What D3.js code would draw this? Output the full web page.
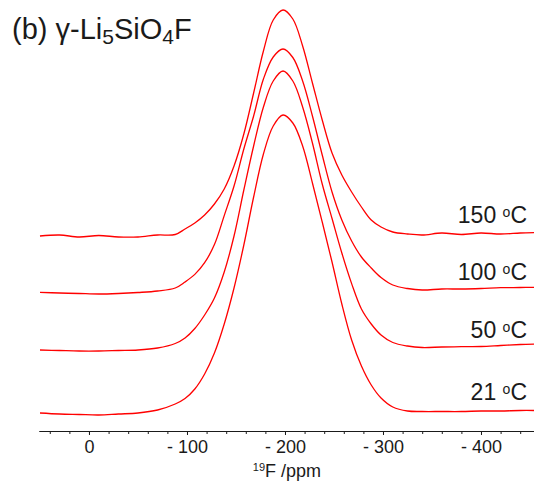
<!DOCTYPE html>
<html>
<head>
<meta charset="utf-8">
<script src="https://cdn.jsdelivr.net/npm/d3@7"></script>
<style>
  body { margin: 0; background: #fff; }
  text { font-family: "Liberation Sans", Arial, sans-serif; fill: #1a1a1a; }
</style>
</head>
<body>
<div id="chart"></div>
<script>
// chemical shift grid (ppm) shared by all spectra
const ppm = [50, 30, 10, -10, -30, -50, -70, -88, -98, -108, -118, -128, -138, -148, -158, -168, -178, -188, -198,
  -208, -218, -228, -238, -248, -258, -268, -278, -288, -298, -310, -325, -340, -360, -380, -400, -420, -440, -455];

// intensities (a.u.)
const i21 = [-1, -2, -2.5, -3, -2, -1, 2, 8, 13.5, 23, 38, 59, 88, 124, 167, 215, 258, 286, 297,
  289, 266, 229, 190, 150, 108, 72, 46, 27, 14, 5, 1, 0.5, 0.5, 0.5, 1, 1, 1.5, 1.5];
const i50 = [0, -0.5, -1, -1, -0.5, 0, 2, 6.5, 12, 21.5, 35, 52, 78, 114, 160, 204, 243, 269, 279,
  269, 243, 207, 166, 131.5, 97, 66.4, 41, 26, 15, 7.5, 4, 2.5, 3, 3.3, 3.5, 4.5, 5.5, 6];
const i100 = [-0.3, -1, -1.5, -2, -1.5, -0.5, 1, 4, 10, 17.6, 29.3, 47.4, 76.4, 106, 143, 176, 213, 235, 243,
  234.5, 211, 176, 137, 100, 72, 51, 35, 24, 14.5, 7, 3.5, 2, 3, 3, 3.5, 4.3, 4.5, 4.7];
const i150 = [-1, 0, -2, -0.5, -2, -2, 0, 0.5, 6, 12, 20, 31, 46, 69, 101, 142, 184, 215, 225,
  216, 189, 152, 115, 82, 60, 43, 28, 15, 8, 3, 1, 0, 2, 0.5, 2, 1, 2, 2.5];

const temps = ["21", "50", "100", "150"];
const spectra = [i21, i50, i100, i150];
const offsets = [0, 62, 120, 177];   // vertical stacking of the spectra

const majorTicks = [0, -100, -200, -300, -400];
const minorTicks = d3.range(40, -441, -20);

const width = 534, height = 490;

const svg = d3.select("#chart")
  .append("svg")
    .attr("width", width)
    .attr("height", height);

// reversed ppm axis
const x = d3.scaleLinear()
  .domain([51, -455])
  .range([39, 534.9]);

const y = d3.scaleLinear()
  .domain([0, 400])
  .range([412, 12]);

const axisY = 431;

// minor ticks
svg.append("g")
  .attr("transform", `translate(0,${axisY})`)
  .call(d3.axisBottom(x).tickValues(minorTicks).tickSize(3).tickSizeOuter(0).tickFormat(""))
  .call(g => g.selectAll("line,path").attr("stroke", "#1a1a1a"));

// major ticks + labels
svg.append("g")
  .attr("transform", `translate(0,${axisY})`)
  .call(d3.axisBottom(x).tickValues(majorTicks).tickSize(4).tickSizeOuter(0).tickPadding(5.5)
    .tickFormat(d => d === 0 ? "0" : "- " + Math.abs(d)))
  .call(g => g.selectAll("line,path").attr("stroke", "#1a1a1a"))
  .call(g => g.selectAll("text")
    .style("font-size", "18px")
    .style("font-family", "'Liberation Sans', Arial, sans-serif")
    .attr("fill", "#1a1a1a"));

// axis title
const xt = svg.append("text")
  .attr("x", x(-200) + 2)
  .attr("y", 477)
  .attr("text-anchor", "middle")
  .style("font-size", "18px");
xt.append("tspan").text("19").style("font-size", "11px").attr("dy", -6);
xt.append("tspan").text("F /ppm").attr("dy", 6);

// spectra
const line = d3.line()
  .x((d, i) => x(ppm[i]))
  .y(d => d)
  .curve(d3.curveCatmullRom.alpha(0.5));

spectra.forEach((s, k) => {
  svg.append("path")
    .datum(s.map(v => y(v + offsets[k])))
    .attr("fill", "none")
    .attr("stroke", "#ff0000")
    .attr("stroke-width", 1.3)
    .attr("d", line);

  const lab = svg.append("text")
    .attr("x", 527)
    .attr("y", y(offsets[k]) - 12)
    .attr("text-anchor", "end")
    .style("font-size", "23px");
  lab.append("tspan").text(temps[k] + " ");
  lab.append("tspan").text("o").style("font-size", "14px").attr("dy", -6);
  lab.append("tspan").text("C").attr("dy", 6);
});

// panel title
const title = svg.append("text")
  .attr("x", 12)
  .attr("y", 39)
  .style("font-size", "29px");
title.append("tspan").text("(b) γ-Li");
title.append("tspan").text("5").style("font-size", "21px").attr("dy", 5);
title.append("tspan").text("SiO").attr("dy", -5);
title.append("tspan").text("4").style("font-size", "21px").attr("dy", 5);
title.append("tspan").text("F").attr("dy", -5);
</script>
</body>
</html>
